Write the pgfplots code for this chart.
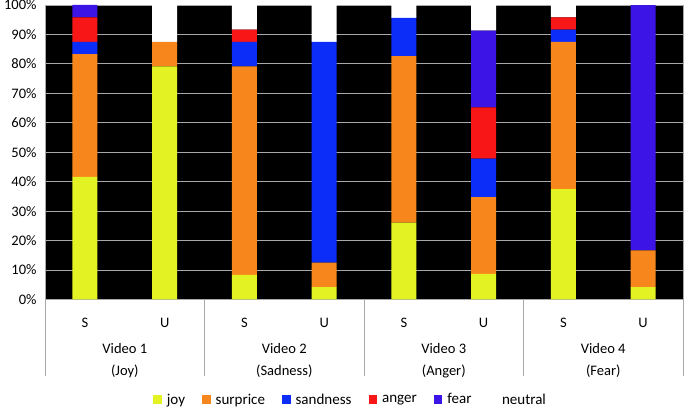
\documentclass[border=0pt]{standalone}
\usepackage{pgfplots}
\pgfplotsset{compat=1.18}
\usepackage{fontspec}
\setmainfont{Carlito}
\definecolor{cjoy}{HTML}{E2F222}
\definecolor{csur}{HTML}{F7871C}
\definecolor{csad}{HTML}{0C2CF8}
\definecolor{cang}{HTML}{F81616}
\definecolor{cfear}{HTML}{3C14E6}
\definecolor{gridc}{HTML}{A8A8A8}
\begin{document}
\begin{tikzpicture}
\begin{axis}[
  name=ax,
  at={(0,0)}, anchor=south west,
  scale only axis,
  width=637bp, height=294bp,
  ybar stacked,
  bar width=25bp,
  xmin=-0.5, xmax=7.5,
  ymin=0, ymax=100,
  xtick={0,1,2,3,4,5,6,7},
  xticklabels={S,U,S,U,S,U,S,U},
  ytick={0,10,20,30,40,50,60,70,80,90,100},
  yticklabels={0\%,10\%,20\%,30\%,40\%,50\%,60\%,70\%,80\%,90\%,100\%},
  major tick length=0pt,
  axis background/.style={fill=black},
  axis line style={gridc, line width=0.8bp},
  ymajorgrids,
  major grid style={gridc, line width=0.9bp},
  tick label style={font=\fontsize{14.5bp}{17bp}\selectfont, black},
  yticklabel style={xshift=-5bp},
  xticklabel style={anchor=center, yshift=-23bp, font=\fontsize{14.5bp}{17bp}\selectfont},
  clip=false,
  legend columns=6,
  legend style={at={(0.479,0)}, anchor=center, yshift=-100bp, draw=none, fill=none,
    font=\fontsize{15bp}{18bp}\selectfont,
    /tikz/every even column/.append style={column sep=15bp},
    /tikz/every odd column/.append style={column sep=3bp}},
  legend cell align=left,
  legend image code/.code={\fill[#1] (0bp,-4.5bp) rectangle (8.5bp,4.5bp);},
  every axis plot/.append style={draw=none},
]
\addplot[fill=cjoy] coordinates {(0,41.67) (1,79.17) (2,8.33) (3,4.17) (4,26.09) (5,8.70) (6,37.5) (7,4.17)};
\addplot[fill=csur] coordinates {(0,41.67) (1,8.33) (2,70.83) (3,8.33) (4,56.52) (5,26.09) (6,50.0) (7,12.5)};
\addplot[fill=csad] coordinates {(0,4.17) (1,0) (2,8.33) (3,75.0) (4,13.04) (5,13.04) (6,4.17) (7,0)};
\addplot[fill=cang] coordinates {(0,8.33) (1,0) (2,4.17) (3,0) (4,0) (5,17.39) (6,4.17) (7,0)};
\addplot[fill=cfear] coordinates {(0,4.17) (1,0) (2,0) (3,0) (4,0) (5,26.09) (6,0) (7,83.33)};
\addplot[fill=white] coordinates {(0,0) (1,12.5) (2,8.33) (3,12.5) (4,4.35) (5,8.70) (6,4.17) (7,0)};
\legend{joy,surprice,sandness,anger,fear,neutral}
\foreach \x in {-0.5,1.5,3.5,5.5,7.5} {
  \edef\tmp{\noexpand\draw[gridc, line width=0.9bp] (axis cs:\x,0) -- ([yshift=-76bp]axis cs:\x,0);}\tmp
}
\foreach \x/\a/\b in {0.5/Video 1/(Joy),2.5/Video 2/(Sadness),4.5/Video 3/(Anger),6.5/Video 4/(Fear)} {
  \edef\tmp{\noexpand\node[font=\noexpand\fontsize{14.5bp}{17bp}\noexpand\selectfont, anchor=center] at ([yshift=-49bp]axis cs:\x,0) {\a};
  \noexpand\node[font=\noexpand\fontsize{14.5bp}{17bp}\noexpand\selectfont, anchor=center] at ([yshift=-72bp]axis cs:\x,0) {\b};}\tmp
}
\end{axis}
\pgfresetboundingbox
\path ([shift={(-45bp,-108bp)}]ax.south west) rectangle ([shift={(2bp,5bp)}]ax.north east);
\end{tikzpicture}
\end{document}
